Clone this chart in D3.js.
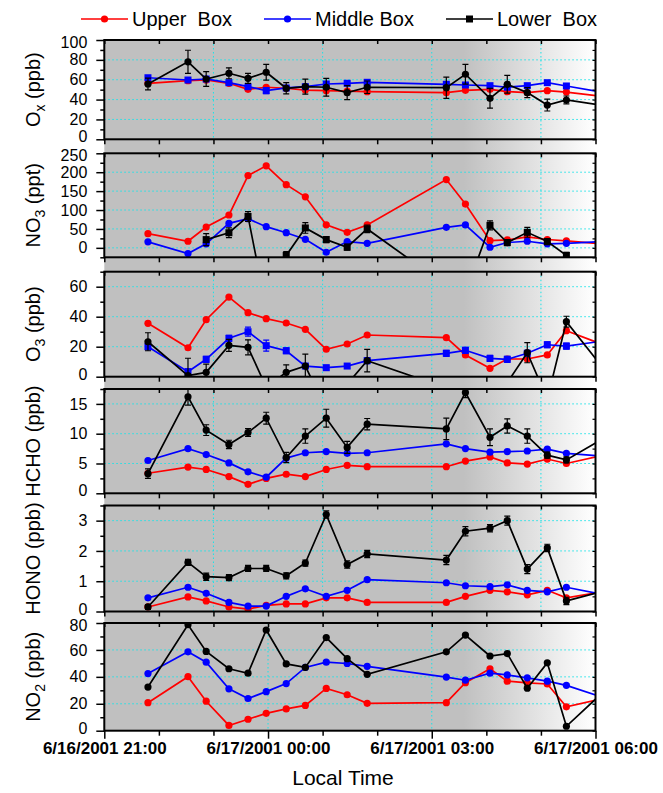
<!DOCTYPE html>
<html>
<head>
<meta charset="utf-8">
<script src="https://cdn.jsdelivr.net/npm/d3@7"></script>
<style>
  body { margin: 0; background: #fff; }
  text { font-family: Arial, "Liberation Sans", sans-serif; }
</style>
</head>
<body>
<svg id="chart" width="663" height="793"></svg>
<script>
// ---- Data ---------------------------------------------------------------
const xStart = "2001-06-16 21:00";
const xEnd   = "2001-06-17 06:00";
const times = ["2001-06-16 21:48","2001-06-16 22:32","2001-06-16 22:52","2001-06-16 23:17",
  "2001-06-16 23:38","2001-06-16 23:58","2001-06-17 00:20","2001-06-17 00:41","2001-06-17 01:04",
  "2001-06-17 01:27","2001-06-17 01:49","2001-06-17 03:16","2001-06-17 03:37","2001-06-17 04:04",
  "2001-06-17 04:23","2001-06-17 04:45","2001-06-17 05:07","2001-06-17 05:28","2001-06-17 06:18"];
const xLabelTimes = ["2001-06-16 21:00","2001-06-17 00:00","2001-06-17 03:00","2001-06-17 06:00"];

const seriesNames  = ["Upper  Box", "Middle Box", "Lower  Box"];
const seriesColors = ["#ff0000", "#0000ff", "#000000"];

// O_x (ppb)
const oxTicks  = [0, 20, 40, 60, 80, 100];
const oxUpper  = [56.4, 59, 59.7, 56.4, 50.3, 52.4, 51.4, 49.6, 49, 48.6, 48, 47, 49.3, 50.3, 48, 47, 49, 47.6, 42];
const oxMiddle = [62, 59.7, 60.7, 57, 53, 49, 51.7, 53, 55.7, 56.4, 57.4, 55.4, 54.7, 54, 52.4, 54, 57, 53.7, 45.7];
const oxLower  = [55.7, 78, 60.7, 66.5, 61.4, 67.5, 51.4, 53, 52.4, 47, 52.4, 52, 65.5, 41.3, 55.4, 47, 34.5, 39.6, 32.9];
const oxMiddleErr = [2, 2, 2, 2, 2, 3, 2, 2, 2, 2, 2, 2, 2, 2, 2, 2, 2, 2, null];
const oxLowerErr  = [6, 11.7, 7.5, 5.5, 5, 8, 5.7, 7.6, 9, 7, 6.3, 10.7, 10, 10, 9, 5, 6, 4, null];

// NO_3 (ppt)
const no3Ticks  = [0, 50, 100, 150, 200, 250];
const no3Upper  = [37.6, 17.4, 55, 86.8, 191, 217, 167, 135, 61, 41, 60.5, 180.5, 115.8, 19, 21, 29, 22, 18.4, 8.4];
const no3Middle = [15.8, -15, 10.5, 64.7, 77, 56, 40, 22.6, -11.6, 16.6, 12, 54.2, 60.5, 1.6, 14, 17.4, 10.5, 12, 17.9];
const no3Lower  = [null, null, 21.8, 40, 83, -160, -20, 52.6, 21.8, 1.6, 50, -100, -120, 59.5, 14, 41, 16.6, -20, null];
const no3LowerErr = [null, null, 16, 13, 13, 10, 10, 14, 8, 8, 10, 10, 10, 12, 8, 13, 8, 8, null];

// O_3 (ppb)
const o3Ticks  = [0, 20, 40, 60];
const o3Upper  = [35.6, 19.3, 38, 53.1, 42.7, 38.7, 35.8, 31.6, 18.3, 21.8, 27.8, 26, 14.5, 5.6, 11.8, 11.8, 14.5, 30.7, 19.1];
const o3Middle = [20, 3.3, 11.6, 25.6, 30, 20.7, 17.3, 7.1, 6, 7.1, 10.7, 15.6, 17.6, 12.2, 11.6, 15.6, 21.3, 20.4, 24.6];
const o3Lower  = [23.3, 0.7, 2.9, 20.9, 19.6, -7, 2.9, 7.1, -22, -5, 10.7, -7.5, -15, -20, -4, 16, -15, 36.7, -1.6];
const o3MiddleErr = [2, 2, 2, 2, 3, 3.7, 2, 1.5, 1.5, 1.5, 2, 2, 2, 2, 2, 2, 2, 2, null];
const o3LowerErr  = [6, 11.6, 5.5, 4, 5, 4, 5, 8, 4, 4, 7.5, 4, 4, 4, 4, 6.7, 4, 3.6, null];

// HCHO (ppb)
const hchoTicks  = [0, 5, 10, 15];
const hchoUpper  = [3.36, 4.4, 4.0, 2.8, 1.5, 2.5, 3.2, 2.8, 4.0, 4.7, 4.46, 4.46, 5.4, 6.1, 5.1, 4.9, 5.75, 5.0, 6.7];
const hchoMiddle = [5.5, 7.5, 6.5, 5.1, 3.6, 2.7, 5.9, 6.8, 7.0, 6.7, 6.8, 8.3, 7.5, 6.9, 7.0, 7.1, 7.4, 6.7, 6.1];
const hchoLower  = [3.3, 16.2, 10.6, 8.2, 10.2, 12.6, 6.0, 9.6, 12.6, 7.7, 11.6, 10.8, 16.9, 9.4, 11.3, 9.6, 6.4, 5.6, 10.0];
const hchoLowerErr = [0.8, 1.4, 0.9, 0.7, 0.65, 1.0, 0.85, 1.2, 1.5, 1.0, 0.95, 1.8, 0.85, 1.4, 1.2, 1.2, 0.5, 0.5, null];

// HONO (ppb)
const honoTicks  = [0, 1, 2, 3];
const honoUpper  = [0.15, 0.48, 0.35, 0.15, 0.08, 0.2, 0.25, 0.25, 0.45, 0.45, 0.3, 0.3, 0.5, 0.7, 0.65, 0.55, 0.7, 0.45, 0.7];
const honoMiddle = [0.45, 0.8, 0.6, 0.3, 0.18, 0.18, 0.5, 0.75, 0.5, 0.7, 1.05, 0.95, 0.85, 0.82, 0.88, 0.7, 0.65, 0.8, 0.5];
const honoLower  = [0.15, 1.62, 1.15, 1.12, 1.42, 1.42, 1.18, 1.6, 3.2, 1.55, 1.9, 1.7, 2.65, 2.75, 3.0, 1.4, 2.1, 0.35, 0.75];
const honoLowerErr = [0.08, 0.1, 0.12, 0.1, 0.1, 0.1, 0.1, 0.1, 0.12, 0.12, 0.12, 0.15, 0.15, 0.12, 0.15, 0.15, 0.12, 0.12, null];

// NO_2 (ppb)
const no2Ticks  = [0, 20, 40, 60, 80];
const no2Upper  = [20.8, 40.1, 21.9, 3.9, 8.5, 12.9, 16.2, 18.8, 31.4, 26.7, 20.3, 20.8, 35.7, 46, 36.8, 35.5, 34.7, 17.7, 25.4];
const no2Middle = [42.4, 58.6, 50.9, 31.1, 23.9, 29, 35, 47, 50.9, 49.9, 47.8, 39.8, 37.5, 42.7, 41.4, 39.3, 36.8, 33.7, 22.5];
const no2Lower  = [32.4, 78.7, 58.9, 46, 42.7, 74.8, 49.6, 47, 69.2, 53.5, 41.9, 58.6, 71, 55.5, 57.3, 31.6, 50.4, 3.3, 34.7];

// Vertical grid hours
const gridOddHours = ["2001-06-16 23:00","2001-06-17 01:00","2001-06-17 03:00","2001-06-17 05:00"];
const gridThreeHours = ["2001-06-17 00:00","2001-06-17 03:00"];

// ---- Layout -------------------------------------------------------------
const parseTime = d3.timeParse("%Y-%m-%d %H:%M");
const X0 = 104.3, X1 = 595.5;
const PLOT_TOP = 40, PLOT_BOTTOM = 730.7;

const panels = [
  { title: ["O", "x", " (ppb)"], domain: [0, 100], ticks: oxTicks, minorStep: 10, top: 40, bottom: 139.3,
    series: [oxUpper, oxMiddle, oxLower], errs: [null, oxMiddleErr, oxLowerErr],
    shapes: ["circle", "square", "circle"], vgrid: gridOddHours },
  { title: ["NO", "3", " (ppt)"], domain: [-25, 250], ticks: no3Ticks, minorStep: 25, top: 153.3, bottom: 257.3,
    series: [no3Upper, no3Middle, no3Lower], errs: [null, null, no3LowerErr],
    shapes: ["circle", "circle", "square"], vgrid: gridOddHours },
  { title: ["O", "3", " (ppb)"], domain: [0, 70], ticks: o3Ticks, minorStep: 10, top: 271.7, bottom: 376.7,
    series: [o3Upper, o3Middle, o3Lower], errs: [null, o3MiddleErr, o3LowerErr],
    shapes: ["circle", "square", "circle"], vgrid: gridOddHours },
  { title: ["HCHO (ppb)"], domain: [0, 17.5], ticks: hchoTicks, minorStep: 2.5, top: 389, bottom: 493.3,
    series: [hchoUpper, hchoMiddle, hchoLower], errs: [null, null, hchoLowerErr],
    shapes: ["circle", "circle", "circle"], vgrid: gridOddHours },
  { title: ["HONO (ppb)"], domain: [0, 3.5], ticks: honoTicks, minorStep: 0.5, top: 505.5, bottom: 611.5,
    series: [honoUpper, honoMiddle, honoLower], errs: [null, null, honoLowerErr],
    shapes: ["circle", "circle", "circle"], vgrid: gridOddHours },
  { title: ["NO", "2", " (ppb)"], domain: [0, 80], ticks: no2Ticks, minorStep: 10, top: 623, bottom: 730.7,
    series: [no2Upper, no2Middle, no2Lower], errs: [null, null, null],
    shapes: ["circle", "circle", "circle"], vgrid: gridThreeHours }
];

// ---- Drawing ------------------------------------------------------------
const svg = d3.select("#chart");
const defs = svg.append("defs");
const x = d3.scaleTime().domain([parseTime(xStart), parseTime(xEnd)]).range([X0, X1]);
const t = times.map(parseTime);
const labelSet = new Set(xLabelTimes.map(s => +parseTime(s)));
const hourTicks = d3.timeHour.range(parseTime(xStart), d3.timeMinute.offset(parseTime(xEnd), 1));

// shaded background: flat grey fading to white toward dawn
const grad = defs.append("linearGradient").attr("id", "bg")
  .attr("gradientUnits", "userSpaceOnUse")
  .attr("x1", X0).attr("x2", X1).attr("y1", 0).attr("y2", 0);
grad.append("stop").attr("offset", 0).attr("stop-color", "#c0c0c0");
grad.append("stop").attr("offset", (x(parseTime("2001-06-17 03:35")) - X0) / (X1 - X0)).attr("stop-color", "#c0c0c0");
grad.append("stop").attr("offset", 1).attr("stop-color", "#ffffff");
svg.append("rect").attr("x", X0).attr("y", PLOT_TOP)
  .attr("width", X1 - X0).attr("height", PLOT_BOTTOM - PLOT_TOP).attr("fill", "url(#bg)");

function marker(sel, shape, color, px, py) {
  if (shape === "square") {
    sel.append("rect").attr("x", px - 3.5).attr("y", py - 3.5).attr("width", 7).attr("height", 7).attr("fill", color);
  } else {
    sel.append("circle").attr("cx", px).attr("cy", py).attr("r", 3.6).attr("fill", color);
  }
}

panels.forEach((p, i) => {
  const y = d3.scaleLinear().domain(p.domain).range([p.bottom, p.top]);
  const g = svg.append("g");

  defs.append("clipPath").attr("id", "clip" + i).append("rect")
    .attr("x", X0).attr("y", p.top).attr("width", X1 - X0).attr("height", p.bottom - p.top);

  // dotted cyan grid
  const grid = g.append("g").attr("stroke", "#19e3e8").attr("stroke-width", 1).attr("stroke-dasharray", "1.5,2.5");
  grid.selectAll("line.h").data(p.ticks.filter(v => v > p.domain[0] && v < p.domain[1]))
    .join("line").attr("x1", X0).attr("x2", X1).attr("y1", d => y(d)).attr("y2", d => y(d));
  grid.selectAll("line.v").data(p.vgrid.map(parseTime))
    .join("line").attr("x1", d => x(d)).attr("x2", d => x(d)).attr("y1", p.top).attr("y2", p.bottom);

  // series
  const plot = g.append("g").attr("clip-path", `url(#clip${i})`);
  p.series.forEach((vals, k) => {
    const color = seriesColors[k];
    const errs = p.errs[k];
    const pts = t.map((d, j) => ({ t: d, v: vals[j], e: errs ? errs[j] : null })).filter(d => d.v != null);
    plot.append("path").datum(pts)
      .attr("d", d3.line().x(d => x(d.t)).y(d => y(d.v)))
      .attr("fill", "none").attr("stroke", color).attr("stroke-width", 1.7);
    const eb = plot.append("g").attr("stroke", color).attr("stroke-width", 1.2);
    pts.filter(d => d.e != null).forEach(d => {
      const px = x(d.t), y1 = y(d.v - d.e), y2 = y(d.v + d.e);
      eb.append("line").attr("x1", px).attr("x2", px).attr("y1", y1).attr("y2", y2);
      eb.append("line").attr("x1", px - 3).attr("x2", px + 3).attr("y1", y1).attr("y2", y1);
      eb.append("line").attr("x1", px - 3).attr("x2", px + 3).attr("y1", y2).attr("y2", y2);
    });
    const mk = plot.append("g");
    pts.filter(d => x(d.t) <= X1).forEach(d => marker(mk, p.shapes[k], color, x(d.t), y(d.v)));
  });

  // minor y values
  const minor = d3.range(p.domain[0], p.domain[1] + 1e-9, p.minorStep).filter(v => !p.ticks.includes(v));

  // left axis; labels sitting on a panel edge are nudged inward a little
  const left = g.append("g").attr("transform", `translate(${X0},0)`)
    .call(d3.axisLeft(y).tickValues(p.ticks).tickSize(8).tickPadding(9).tickFormat(d3.format("d")));
  left.select(".domain").remove();
  left.selectAll("line").attr("stroke-width", 1.5);
  left.selectAll("text").attr("font-size", 16).attr("fill", "#000")
    .attr("y", d => d === p.domain[0] ? -2.5 : d === p.domain[1] ? 2.5 : 0);
  const leftMinor = g.append("g").attr("transform", `translate(${X0},0)`)
    .call(d3.axisLeft(y).tickValues(minor).tickSize(4).tickFormat(""));
  leftMinor.select(".domain").remove();
  leftMinor.selectAll("line").attr("stroke-width", 1.5);

  // right axis (inward ticks)
  const right = g.append("g").attr("transform", `translate(${X1},0)`)
    .call(d3.axisLeft(y).tickValues(p.ticks.concat(minor)).tickSize(3).tickFormat(""));
  right.select(".domain").remove();
  right.selectAll("line").attr("stroke-width", 1.2).attr("x2", 0).attr("x1", -3);

  // top ticks (inward)
  const top = g.append("g").attr("transform", `translate(0,${p.top})`)
    .call(d3.axisBottom(x).tickValues(hourTicks).tickSize(4).tickFormat(""));
  top.select(".domain").remove();
  top.selectAll("line").attr("stroke-width", 1.5);

  // bottom axis (outward ticks)
  const isLast = i === panels.length - 1;
  const bottom = g.append("g").attr("transform", `translate(0,${p.bottom})`)
    .call(d3.axisBottom(x).tickValues(hourTicks).tickSize(5).tickPadding(6)
      .tickFormat(d => isLast && labelSet.has(+d) ? d3.timeFormat("%-m/%-d/%Y %H:%M")(d) : ""));
  bottom.select(".domain").remove();
  bottom.selectAll("line").attr("stroke-width", 1.5)
    .attr("y2", d => isLast && labelSet.has(+d) ? 8 : 5);
  bottom.selectAll("text").attr("font-size", 17).attr("font-weight", "bold").attr("fill", "#000");

  // frame
  g.append("rect").attr("x", X0).attr("y", p.top).attr("width", X1 - X0).attr("height", p.bottom - p.top)
    .attr("fill", "none").attr("stroke", "#000").attr("stroke-width", 2);

  // rotated axis title
  const cy = (p.top + p.bottom) / 2;
  const title = g.append("text").attr("transform", `translate(40,${cy}) rotate(-90)`)
    .attr("text-anchor", "middle").attr("font-size", 20).attr("fill", "#000");
  if (p.title.length === 1) {
    title.text(p.title[0]);
  } else {
    title.append("tspan").text(p.title[0]);
    title.append("tspan").attr("font-size", 14).attr("dy", 5).text(p.title[1]);
    title.append("tspan").attr("dy", -5).text(p.title[2]);
  }
});

// x axis title
svg.append("text").attr("x", 343).attr("y", 785).attr("text-anchor", "middle")
  .attr("font-size", 21).attr("fill", "#000").text("Local Time");

// legend
const legendX = [81, 264, 446];
const legendShapes = ["circle", "circle", "square"];
const leg = svg.append("g");
seriesNames.forEach((name, k) => {
  const lx = legendX[k], ly = 19;
  leg.append("line").attr("x1", lx).attr("x2", lx + 47).attr("y1", ly).attr("y2", ly)
    .attr("stroke", seriesColors[k]).attr("stroke-width", 1.7);
  if (legendShapes[k] === "square") {
    leg.append("rect").attr("x", lx + 23.5 - 3.5).attr("y", ly - 3.5).attr("width", 7).attr("height", 7).attr("fill", seriesColors[k]);
  } else {
    leg.append("circle").attr("cx", lx + 23.5).attr("cy", ly).attr("r", 3.6).attr("fill", seriesColors[k]);
  }
  leg.append("text").attr("x", lx + 51).attr("y", ly + 7).attr("font-size", 20)
    .style("white-space", "pre").attr("fill", "#000").text(name);
});
</script>
</body>
</html>
